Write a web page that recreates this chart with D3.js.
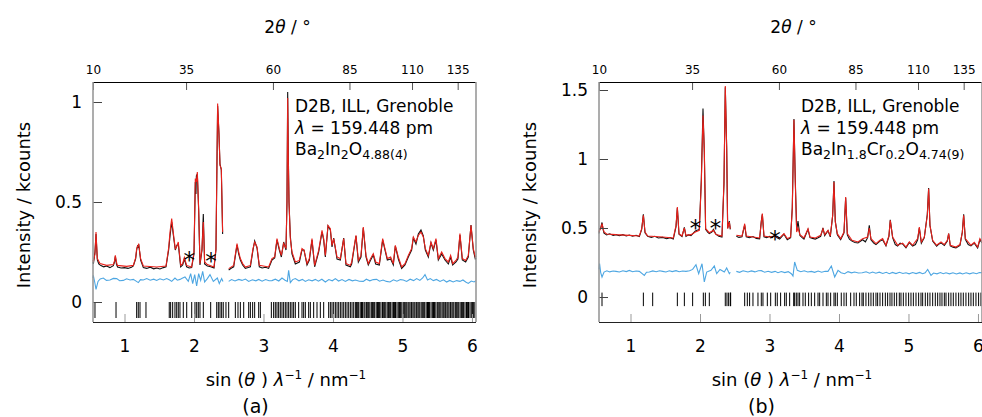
<!DOCTYPE html>
<html>
<head>
<meta charset="utf-8">
<script src="https://cdn.jsdelivr.net/npm/d3@7/dist/d3.min.js"></script>
<style>
  body { margin: 0; background: #fff; }
  svg text { font-family: "DejaVu Sans", Verdana, sans-serif; fill: #000; }
</style>
</head>
<body>
<svg id="chart" width="982" height="417"></svg>
<script>
// neutron powder patterns, D2B (ILL), two samples
const lambdaNm = 0.159448
const twoThetaRange = [10, 150]
const twoThetaTicks = [10, 35, 60, 85, 110, 135]
const sTicks = [1, 2, 3, 4, 5, 6]
const yTicksA = [0, 0.5, 1]
const yTicksB = [0, 0.5, 1, 1.5]

// [sinθ/λ (nm^-1), intensity (kcounts)]; null = excluded region
const calcA = [[0.547,0.21],[0.551,0.20],[0.575,0.24],[0.590,0.35],[0.609,0.217],[0.647,0.192],[0.743,0.183],[0.839,0.187],[0.856,0.205],[0.868,0.233],[0.884,0.2],[0.897,0.183],[1.031,0.178],[1.127,0.183],[1.160,0.22],[1.175,0.267],[1.190,0.28],[1.204,0.288],[1.232,0.217],[1.271,0.18],[1.463,0.175],[1.597,0.18],[1.635,0.27],[1.655,0.35],[1.679,0.417],[1.712,0.317],[1.731,0.267],[1.755,0.28],[1.774,0.30],[1.808,0.183],[1.837,0.192],[1.861,0.222],[1.894,0.183],[1.966,0.175],[2.0,0.25],[2.019,0.617],[2.034,0.60],[2.048,0.65],[2.067,0.467],[2.086,0.192],[2.115,0.267],[2.134,0.40],[2.153,0.20],[2.192,0.187],[2.288,0.175],[2.316,0.267],[2.34,0.992],[2.359,0.85],[2.374,0.683],[2.393,0.667],[2.412,0.35],[2.45,null],
  [2.499,0.167],[2.571,0.183],[2.619,0.292],[2.643,0.25],[2.667,0.217],[2.70,0.192],[2.739,0.175],[2.811,0.183],[2.849,0.267],[2.873,0.30],[2.907,0.275],[2.940,0.183],[3.074,0.175],[3.122,0.217],[3.161,0.225],[3.194,0.317],[3.228,0.267],[3.257,0.233],[3.290,0.292],[3.324,0.267],[3.338,0.5],[3.348,1.02],[3.358,0.7],[3.367,0.5],[3.386,0.317],[3.410,0.25],[3.458,0.20],[3.516,0.208],[3.554,0.267],[3.583,0.258],[3.626,0.192],[3.660,0.217],[3.698,0.317],[3.736,0.183],[3.794,0.258],[3.842,0.358],[3.866,0.317],[3.890,0.233],[3.928,0.383],[3.962,0.367],[3.986,0.283],[4.010,0.317],[4.058,0.225],[4.106,0.217],[4.154,0.317],[4.187,0.192],[4.25,0.183],
  [4.269,0.20],[4.331,0.333],[4.365,0.208],[4.403,0.233],[4.436,0.375],[4.475,0.233],[4.508,0.192],[4.542,0.217],[4.58,0.242],[4.614,0.20],[4.667,0.192],[4.715,0.317],[4.748,0.267],[4.782,0.217],[4.83,0.225],[4.868,0.192],[4.897,0.283],[4.94,0.225],[4.988,0.175],[5.036,0.192],[5.084,0.233],[5.132,0.267],[5.156,0.325],[5.194,0.30],[5.228,0.333],[5.266,0.35],[5.30,0.325],[5.329,0.267],[5.372,0.233],[5.41,0.30],[5.444,0.267],[5.482,0.317],[5.516,0.217],[5.564,0.25],[5.612,0.217],[5.66,0.20],[5.693,0.233],[5.722,0.192],[5.77,0.208],[5.798,0.225],[5.827,0.342],[5.861,0.217],[5.909,0.208],[5.947,0.233],[5.986,0.383],[6.019,0.267],[6.048,0.225],[6.058,0.23]]

const obsA = [[0.547,0.2],[0.552,0.19],[0.575,0.25],[0.590,0.34],[0.609,0.21],[0.63,0.19],[0.66,0.182],[0.70,0.176],[0.743,0.18],[0.79,0.172],[0.839,0.182],[0.856,0.2],[0.868,0.228],[0.884,0.19],[0.9,0.175],[0.95,0.17],[1.0,0.172],[1.05,0.168],[1.1,0.174],[1.127,0.18],[1.160,0.215],[1.175,0.26],[1.190,0.285],[1.198,0.27],[1.204,0.29],[1.232,0.21],[1.271,0.172],[1.32,0.168],[1.37,0.174],[1.42,0.166],[1.463,0.17],[1.51,0.165],[1.56,0.172],[1.597,0.176],[1.635,0.26],[1.655,0.33],[1.679,0.40],[1.712,0.31],[1.731,0.26],[1.755,0.285],[1.774,0.29],[1.808,0.176],[1.837,0.185],[1.861,0.215],[1.894,0.176],[1.93,0.17],[1.966,0.172],[2.0,0.24],[2.019,0.6],[2.028,0.54],[2.034,0.63],[2.048,0.64],[2.067,0.46],[2.086,0.185],[2.115,0.26],[2.134,0.44],[2.153,0.19],[2.192,0.18],[2.24,0.176],[2.288,0.17],[2.316,0.26],[2.34,0.98],[2.359,0.84],[2.374,0.69],[2.393,0.66],[2.412,0.34],[2.45,null],
  [2.499,0.16],[2.54,0.17],[2.571,0.176],[2.619,0.285],[2.643,0.24],[2.667,0.21],[2.70,0.185],[2.739,0.168],[2.78,0.172],[2.811,0.176],[2.849,0.26],[2.873,0.305],[2.907,0.27],[2.940,0.176],[2.98,0.17],[3.03,0.174],[3.074,0.168],[3.122,0.21],[3.161,0.22],[3.194,0.31],[3.228,0.26],[3.257,0.225],[3.290,0.30],[3.324,0.26],[3.338,0.5],[3.348,1.05],[3.358,0.72],[3.367,0.5],[3.386,0.33],[3.410,0.24],[3.458,0.19],[3.516,0.2],[3.554,0.26],[3.583,0.26],[3.626,0.185],[3.660,0.21],[3.698,0.31],[3.736,0.176],[3.794,0.25],[3.842,0.35],[3.866,0.31],[3.890,0.225],[3.928,0.38],[3.962,0.36],[3.986,0.275],[4.010,0.32],[4.058,0.215],[4.106,0.21],[4.154,0.32],[4.187,0.185],[4.25,0.176],
  [4.269,0.19],[4.331,0.33],[4.365,0.2],[4.403,0.225],[4.436,0.37],[4.475,0.225],[4.508,0.185],[4.542,0.21],[4.58,0.235],[4.614,0.19],[4.667,0.185],[4.715,0.31],[4.748,0.26],[4.782,0.21],[4.83,0.215],[4.868,0.185],[4.897,0.28],[4.94,0.215],[4.988,0.168],[5.036,0.185],[5.084,0.225],[5.132,0.26],[5.156,0.32],[5.194,0.29],[5.228,0.34],[5.266,0.36],[5.30,0.33],[5.329,0.26],[5.372,0.225],[5.41,0.295],[5.444,0.26],[5.482,0.31],[5.516,0.21],[5.564,0.24],[5.612,0.21],[5.66,0.19],[5.693,0.225],[5.722,0.185],[5.77,0.2],[5.798,0.215],[5.827,0.335],[5.861,0.21],[5.909,0.2],[5.947,0.225],[5.986,0.385],[6.019,0.26],[6.048,0.215],[6.058,0.22]]

const diffA = [[0.547,0.12],[0.551,0.133],[0.571,0.10],[0.590,0.063],[0.619,0.103],[0.65,0.115],[0.695,0.12],[0.74,0.108],[0.791,0.11],[0.84,0.118],[0.887,0.117],[0.93,0.106],[0.983,0.108],[1.03,0.116],[1.08,0.11],[1.127,0.113],[1.199,0.097],[1.23,0.112],[1.271,0.11],[1.32,0.117],[1.37,0.109],[1.42,0.114],[1.463,0.108],[1.51,0.116],[1.56,0.11],[1.607,0.117],[1.65,0.11],[1.679,0.103],[1.726,0.12],[1.76,0.109],[1.798,0.113],[1.83,0.119],[1.87,0.125],[1.918,0.103],[1.952,0.142],[1.981,0.092],[2.01,0.137],[2.038,0.08],[2.067,0.142],[2.096,0.108],[2.125,0.153],[2.153,0.10],[2.192,0.117],[2.23,0.137],[2.278,0.103],[2.336,0.12],[2.364,0.092],[2.398,0.117],[2.417,0.103],[2.45,null],
  [2.499,0.103],[2.54,0.112],[2.59,0.105],[2.643,0.113],[2.69,0.108],[2.74,0.115],[2.787,0.103],[2.84,0.111],[2.89,0.106],[2.931,0.113],[2.98,0.104],[3.03,0.112],[3.08,0.106],[3.122,0.107],[3.17,0.114],[3.22,0.105],[3.266,0.12],[3.31,0.109],[3.343,0.103],[3.362,0.158],[3.386,0.097],[3.42,0.112],[3.458,0.117],[3.51,0.106],[3.56,0.113],[3.602,0.103],[3.65,0.111],[3.70,0.106],[3.746,0.113],[3.79,0.104],[3.84,0.114],[3.89,0.10],[3.94,0.112],[3.99,0.106],[4.034,0.117],[4.08,0.105],[4.13,0.112],[4.178,0.103],[4.23,0.113],[4.28,0.106],[4.322,0.11],
  [4.38,0.104],[4.436,0.103],[4.48,0.114],[4.53,0.106],[4.58,0.112],[4.628,0.113],[4.67,0.104],[4.72,0.11],[4.77,0.103],[4.82,0.10],[4.87,0.111],[4.92,0.104],[4.97,0.112],[5.012,0.11],[5.06,0.103],[5.11,0.114],[5.16,0.107],[5.204,0.117],[5.25,0.108],[5.29,0.12],[5.324,0.137],[5.36,0.11],[5.40,0.117],[5.444,0.107],[5.49,0.113],[5.54,0.103],[5.59,0.111],[5.635,0.10],[5.68,0.108],[5.73,0.1],[5.78,0.107],[5.827,0.103],[5.87,0.11],[5.91,0.1],[5.947,0.093],[5.99,0.105],[6.03,0.1],[6.058,0.107]]

const braggA = [0.575,0.878,1.175,1.198,1.223,1.309,1.644,1.664,1.693,1.726,1.751,1.774,1.798,1.846,1.895,1.967,2.014,2.039,2.062,2.086,2.134,2.24,2.327,2.35,2.374,2.398,2.421,
  2.46,2.499,2.595,2.633,2.667,2.715,2.787,2.811,2.844,2.873,2.931,2.955,3.113,3.146,3.17,3.194,3.218,3.242,3.266,3.29,3.314,3.338,3.362,3.386,3.41,3.434,3.458,3.506,3.554,3.578,3.602,3.65,3.674,3.722,3.77,3.818,3.866,3.938,3.962,3.986,4.01,4.034,4.058,4.082,4.106,4.13,4.154,4.178,4.202,4.226,4.25,4.274,4.298,4.322,
  4.34,4.356,4.37,4.392,4.41,4.424,4.446,4.46,4.481,4.5,4.514,4.531,4.552,4.57,4.586,4.6,4.622,4.64,4.654,4.671,4.69,4.712,4.73,4.744,4.76,4.781,4.8,4.816,4.83,4.851,4.87,4.884,4.9,4.921,4.94,4.956,4.97,4.99,5.011,5.026,5.04,5.061,5.08,5.094,5.11,5.131,5.15,5.166,5.18,5.2,5.221,5.236,5.25,5.27,5.291,5.306,5.32,5.341,5.36,5.374,5.39,5.411,5.43,5.446,5.46,5.48,5.501,5.514,5.53,5.551,5.57,5.586,5.6,5.621,5.64,5.654,5.67,5.69,5.711,5.726,5.74,5.761,5.78,5.796,5.81,5.83,5.851,5.866,5.88,5.9,5.921,5.934,5.95,5.971,5.99,6.006,6.02,6.041]

const starsA = [[1.932,0.235],[2.244,0.23]]

const calcB = [[0.547,0.47],[0.555,0.483],[0.571,0.495],[0.590,0.532],[0.619,0.471],[0.657,0.457],[0.791,0.452],[0.983,0.447],[1.127,0.442],[1.161,0.495],[1.185,0.592],[1.209,0.471],[1.247,0.442],[1.463,0.435],[1.616,0.428],[1.655,0.519],[1.674,0.652],[1.698,0.459],[1.741,0.442],[1.775,0.5],[1.798,0.447],[1.870,0.452],[1.933,0.471],[1.99,0.483],[2.019,0.833],[2.043,1.316],[2.062,1.075],[2.081,0.495],[2.134,0.466],[2.192,0.483],[2.23,0.452],[2.316,0.442],[2.345,0.833],[2.364,1.529],[2.384,1.075],[2.398,0.495],[2.422,0.543],[2.436,0.495],[2.47,null],
  [2.523,0.447],[2.604,0.442],[2.628,0.495],[2.643,0.531],[2.666,0.442],[2.762,0.435],[2.858,0.428],[2.882,0.543],[2.897,0.604],[2.921,0.442],[3.002,0.435],[3.074,0.442],[3.146,0.428],[3.208,0.459],[3.256,0.423],[3.304,0.435],[3.328,0.64],[3.352,1.285],[3.371,0.833],[3.391,0.471],[3.41,0.5],[3.438,0.452],[3.496,0.428],[3.554,0.495],[3.583,0.435],[3.659,0.428],[3.736,0.447],[3.77,0.495],[3.794,0.452],[3.842,0.483],[3.875,0.442],[3.909,0.592],[3.928,0.833],[3.947,0.543],[3.976,0.459],[4.024,0.423],[4.072,0.471],[4.096,0.725],[4.12,0.459],[4.187,0.411],[4.273,0.399],[4.34,0.423],
  [4.412,0.435],[4.436,0.5],[4.46,0.423],[4.532,0.387],[4.59,0.411],[4.628,0.423],[4.676,0.375],[4.719,0.447],[4.738,0.555],[4.772,0.435],[4.844,0.375],[4.916,0.391],[4.964,0.362],[5.012,0.399],[5.06,0.375],[5.132,0.423],[5.156,0.507],[5.185,0.399],[5.228,0.435],[5.271,0.592],[5.29,0.785],[5.309,0.519],[5.348,0.411],[5.405,0.375],[5.468,0.399],[5.516,0.38],[5.559,0.411],[5.578,0.459],[5.602,0.375],[5.683,0.362],[5.741,0.38],[5.775,0.471],[5.794,0.592],[5.818,0.423],[5.899,0.375],[5.947,0.396],[5.995,0.362],[6.028,0.423],[6.058,0.399]]

const obsB = [[0.547,0.46],[0.555,0.49],[0.571,0.5],[0.590,0.54],[0.605,0.49],[0.619,0.462],[0.657,0.45],[0.70,0.458],[0.75,0.446],[0.791,0.452],[0.84,0.444],[0.89,0.452],[0.94,0.442],[0.983,0.449],[1.03,0.44],[1.08,0.447],[1.127,0.438],[1.161,0.49],[1.185,0.6],[1.209,0.465],[1.247,0.44],[1.30,0.432],[1.35,0.44],[1.40,0.428],[1.463,0.432],[1.52,0.422],[1.57,0.43],[1.616,0.42],[1.655,0.51],[1.674,0.645],[1.698,0.455],[1.741,0.438],[1.775,0.505],[1.798,0.44],[1.83,0.45],[1.870,0.445],[1.933,0.478],[1.99,0.49],[2.019,0.85],[2.043,1.365],[2.062,1.05],[2.081,0.49],[2.11,0.47],[2.134,0.46],[2.17,0.47],[2.192,0.49],[2.23,0.455],[2.27,0.44],[2.316,0.435],[2.345,0.82],[2.364,1.52],[2.384,1.08],[2.398,0.5],[2.422,0.55],[2.436,0.49],[2.47,null],
  [2.523,0.44],[2.56,0.432],[2.604,0.436],[2.628,0.49],[2.643,0.52],[2.666,0.436],[2.71,0.43],[2.762,0.438],[2.81,0.425],[2.858,0.422],[2.882,0.55],[2.897,0.6],[2.921,0.436],[2.96,0.43],[3.002,0.44],[3.04,0.43],[3.074,0.446],[3.11,0.43],[3.146,0.42],[3.18,0.44],[3.208,0.455],[3.256,0.415],[3.304,0.43],[3.328,0.65],[3.352,1.29],[3.371,0.85],[3.391,0.48],[3.41,0.55],[3.438,0.445],[3.47,0.43],[3.496,0.42],[3.554,0.49],[3.583,0.43],[3.62,0.425],[3.659,0.42],[3.70,0.43],[3.736,0.44],[3.77,0.5],[3.794,0.445],[3.842,0.48],[3.875,0.436],[3.909,0.59],[3.928,0.84],[3.947,0.55],[3.976,0.45],[4.024,0.415],[4.072,0.465],[4.096,0.72],[4.12,0.45],[4.15,0.42],[4.187,0.405],[4.23,0.395],[4.273,0.392],[4.34,0.415],
  [4.38,0.4],[4.412,0.43],[4.436,0.52],[4.46,0.415],[4.50,0.39],[4.532,0.38],[4.59,0.405],[4.628,0.415],[4.676,0.37],[4.719,0.44],[4.738,0.56],[4.772,0.43],[4.81,0.38],[4.844,0.37],[4.88,0.39],[4.916,0.385],[4.964,0.356],[5.012,0.395],[5.06,0.37],[5.10,0.38],[5.132,0.415],[5.156,0.5],[5.185,0.39],[5.228,0.43],[5.271,0.6],[5.29,0.79],[5.309,0.52],[5.348,0.405],[5.405,0.368],[5.44,0.385],[5.468,0.392],[5.516,0.374],[5.559,0.405],[5.578,0.46],[5.602,0.37],[5.64,0.36],[5.683,0.356],[5.741,0.374],[5.775,0.47],[5.794,0.6],[5.818,0.418],[5.86,0.38],[5.899,0.37],[5.947,0.39],[5.995,0.356],[6.028,0.415],[6.058,0.392]]

const diffB = [[0.547,0.2],[0.555,0.242],[0.571,0.177],[0.590,0.145],[0.619,0.181],[0.66,0.19],[0.70,0.182],[0.75,0.188],[0.791,0.186],[0.84,0.181],[0.89,0.19],[0.94,0.184],[0.983,0.193],[1.03,0.183],[1.08,0.189],[1.127,0.186],[1.199,0.157],[1.23,0.18],[1.271,0.181],[1.32,0.189],[1.37,0.183],[1.42,0.19],[1.463,0.186],[1.51,0.181],[1.56,0.19],[1.60,0.184],[1.655,0.191],[1.70,0.183],[1.75,0.189],[1.798,0.186],[1.85,0.19],[1.894,0.2],[1.942,0.234],[1.981,0.169],[2.029,0.241],[2.062,0.109],[2.096,0.181],[2.158,0.193],[2.206,0.225],[2.24,0.169],[2.288,0.2],[2.35,0.181],[2.384,0.21],[2.422,0.169],[2.436,0.18],[2.47,null],
  [2.523,0.186],[2.57,0.179],[2.62,0.19],[2.69,0.181],[2.74,0.189],[2.79,0.182],[2.84,0.19],[2.882,0.191],[2.93,0.18],[2.98,0.187],[3.03,0.179],[3.08,0.186],[3.122,0.176],[3.17,0.185],[3.22,0.177],[3.27,0.184],[3.314,0.169],[3.338,0.152],[3.362,0.254],[3.4,0.193],[3.45,0.183],[3.50,0.19],[3.55,0.181],[3.602,0.186],[3.65,0.179],[3.70,0.188],[3.75,0.18],[3.80,0.187],[3.842,0.186],[3.89,0.225],[3.938,0.145],[3.986,0.193],[4.03,0.176],[4.081,0.169],[4.13,0.184],[4.18,0.175],[4.225,0.181],[4.28,0.174],[4.335,0.176],
  [4.39,0.183],[4.44,0.173],[4.484,0.181],[4.53,0.172],[4.58,0.18],[4.63,0.171],[4.68,0.179],[4.724,0.169],[4.77,0.178],[4.82,0.17],[4.87,0.179],[4.92,0.171],[4.964,0.176],[5.01,0.168],[5.06,0.177],[5.11,0.17],[5.16,0.178],[5.204,0.169],[5.24,0.176],[5.276,0.2],[5.324,0.157],[5.36,0.174],[5.41,0.168],[5.46,0.177],[5.50,0.169],[5.54,0.176],[5.59,0.168],[5.64,0.176],[5.69,0.167],[5.74,0.175],[5.779,0.167],[5.83,0.176],[5.88,0.168],[5.93,0.176],[5.98,0.169],[6.02,0.177],[6.058,0.176]]

const braggB = [0.590,1.185,1.319,1.674,1.775,1.894,2.048,2.077,2.134,2.364,2.388,2.412,2.436,
  2.441,2.643,2.681,2.714,2.762,2.834,2.882,2.906,2.969,3.017,3.084,3.112,3.16,3.218,3.242,3.29,3.348,3.362,3.386,3.41,3.434,3.482,3.515,3.563,3.602,3.65,3.698,3.722,3.77,3.818,3.842,3.88,3.928,3.947,3.976,4.033,4.072,4.105,4.168,4.216,4.249,4.297,4.331,
  4.35,4.388,4.427,4.46,4.494,4.532,4.556,4.59,4.628,4.667,4.7,4.734,4.762,4.796,4.83,4.868,4.892,4.926,4.964,5.002,5.036,5.07,5.108,5.146,5.18,5.204,5.242,5.276,5.309,5.348,5.386,5.42,5.453,5.482,5.516,5.54,5.578,5.611,5.645,5.683,5.722,5.755,5.789,5.827,5.866,5.899,5.933,5.971,6.009,6.043]

const starsB = [[1.935,0.536],[2.223,0.536],[3.079,0.46]]

const toS = tt => Math.sin(tt / 2 * Math.PI / 180) / lambdaNm
const sDomain = twoThetaRange.map(toS)

const panels = [
  { left: 93, yDomain: [-0.1, 1.1], yTicks: yTicksA, calc: calcA, obs: obsA, diff: diffA,
    bragg: braggA, braggSpan: [0, -0.08], stars: starsA, tag: "(a)",
    formula: [["Ba", ""], ["2", "sub"], ["In", ""], ["2", "sub"], ["O", ""], ["4.88(4)", "sub"]] },
  { left: 599, yDomain: [-0.181, 1.558], yTicks: yTicksB, calc: calcB, obs: obsB, diff: diffB,
    bragg: braggB, braggSpan: [0.032, -0.066], stars: starsB, tag: "(b)",
    formula: [["Ba", ""], ["2", "sub"], ["In", ""], ["1.8", "sub"], ["Cr", ""], ["0.2", "sub"], ["O", ""], ["4.74(9)", "sub"]] }
]

const panelTop = 82, W = 383, H = 240
const svg = d3.select("#chart")

const drawPanel = p => {
  const g = svg.append("g").attr("transform", `translate(${p.left},${panelTop})`)
  const x = d3.scaleLinear().domain(sDomain).range([0, W])
  const y = d3.scaleLinear().domain(p.yDomain).range([H, 0])

  const line = d3.line()
    .defined(d => d[1] !== null)
    .x(d => x(d[0]))
    .y(d => y(d[1]))

  // bragg positions
  g.append("g").selectAll("line")
    .data(p.bragg)
    .join("line")
    .attr("x1", d => x(d)).attr("x2", d => x(d))
    .attr("y1", y(p.braggSpan[0])).attr("y2", y(p.braggSpan[1]))
    .attr("stroke", "#000").attr("stroke-width", 1)

  g.append("path").datum(p.diff).attr("d", line)
    .attr("fill", "none").attr("stroke", "#4da6e2").attr("stroke-width", 1.1)
  g.append("path").datum(p.obs).attr("d", line)
    .attr("fill", "none").attr("stroke", "#111").attr("stroke-width", 1.1)
  g.append("path").datum(p.calc).attr("d", line)
    .attr("fill", "none").attr("stroke", "#e8201a").attr("stroke-width", 1.1)

  // impurity marks
  g.append("g").selectAll("text")
    .data(p.stars)
    .join("text")
    .attr("x", d => x(d[0])).attr("y", d => y(d[1]) + 13)
    .attr("text-anchor", "middle")
    .style("font-size", "23px")
    .text("*")

  // axes
  const bottomAxis = d3.axisBottom(x).tickValues(sTicks).tickSize(-8).tickPadding(18).tickFormat(d3.format("d"))
  g.append("g").attr("transform", `translate(0,${H})`).call(bottomAxis)
    .call(a => a.select(".domain").remove())
    .call(a => a.selectAll("line").attr("stroke", "#999"))
    .call(a => a.selectAll("text").style("font-size", "17px").attr("font-family", null))

  const topAxis = d3.axisTop(x).tickValues(twoThetaTicks.map(toS)).tickSize(-8).tickPadding(8.5)
    .tickFormat((d, i) => twoThetaTicks[i])
  g.append("g").call(topAxis)
    .call(a => a.select(".domain").remove())
    .call(a => a.selectAll("line").attr("stroke", "#555"))
    .call(a => a.selectAll("text").style("font-size", "12px").attr("font-family", null))

  const leftAxis = d3.axisLeft(y).tickValues(p.yTicks).tickSize(-9).tickPadding(11).tickFormat(d => d3.format("~g")(d))
  g.append("g").call(leftAxis)
    .call(a => a.select(".domain").remove())
    .call(a => a.selectAll("line").attr("stroke", "#444"))
    .call(a => a.selectAll("text").style("font-size", "17px").attr("font-family", null))

  // frame
  g.append("line").attr("x1", 0).attr("x2", W).attr("y1", 0.5).attr("y2", 0.5).attr("stroke", "#000")
  g.append("line").attr("x1", 0).attr("x2", W).attr("y1", H + 0.5).attr("y2", H + 0.5).attr("stroke", "#222")
  g.append("line").attr("x1", 0).attr("x2", 0).attr("y1", 0).attr("y2", H).attr("stroke", "#999").attr("stroke-width", 1.6)
  g.append("line").attr("x1", W).attr("x2", W).attr("y1", 0).attr("y2", H).attr("stroke", "#999").attr("stroke-width", 1.6)

  // titles
  const tTop = g.append("text").attr("x", W / 2 + 3).attr("y", -49).attr("text-anchor", "middle").style("font-size", "17px")
  tTop.append("tspan").text("2")
  tTop.append("tspan").style("font-style", "italic").text("θ")
  tTop.append("tspan").text(" / °")

  const tX = g.append("text").attr("x", W / 2 + 1.5).attr("y", 304).attr("text-anchor", "middle").style("font-size", "18px")
  tX.append("tspan").text("sin (")
  tX.append("tspan").style("font-style", "italic").text("θ")
  tX.append("tspan").text(" ) ")
  tX.append("tspan").style("font-style", "italic").text("λ")
  tX.append("tspan").attr("dy", -7).style("font-size", "12px").text("−1")
  tX.append("tspan").attr("dy", 7).text(" / nm")
  tX.append("tspan").attr("dy", -7).style("font-size", "12px").text("−1")

  g.append("text").attr("transform", `translate(-63,${H / 2 + 3}) rotate(-90)`)
    .attr("text-anchor", "middle").style("font-size", "18px")
    .text("Intensity / kcounts")

  g.append("text").attr("x", W / 2 - 29).attr("y", 331).attr("text-anchor", "middle")
    .style("font-size", "19px").text(p.tag)

  // sample block
  const info = g.append("g").attr("transform", "translate(202,0)").style("font-size", "17px")
  info.append("text").attr("y", 29.5).text("D2B, ILL, Grenoble")
  const l2 = info.append("text").attr("y", 51.5)
  l2.append("tspan").style("font-style", "italic").text("λ")
  l2.append("tspan").text(" = 159.448 pm")
  const l3 = info.append("text").attr("y", 73)
  let shifted = false
  p.formula.forEach(([t, kind]) => {
    const ts = l3.append("tspan").text(t)
    if (kind === "sub" && !shifted) { ts.attr("dy", 4).style("font-size", "12.5px"); shifted = true }
    else if (kind === "sub") ts.style("font-size", "12.5px")
    else if (shifted) { ts.attr("dy", -4); shifted = false }
  })
}

panels.forEach(drawPanel)
</script>
</body>
</html>
